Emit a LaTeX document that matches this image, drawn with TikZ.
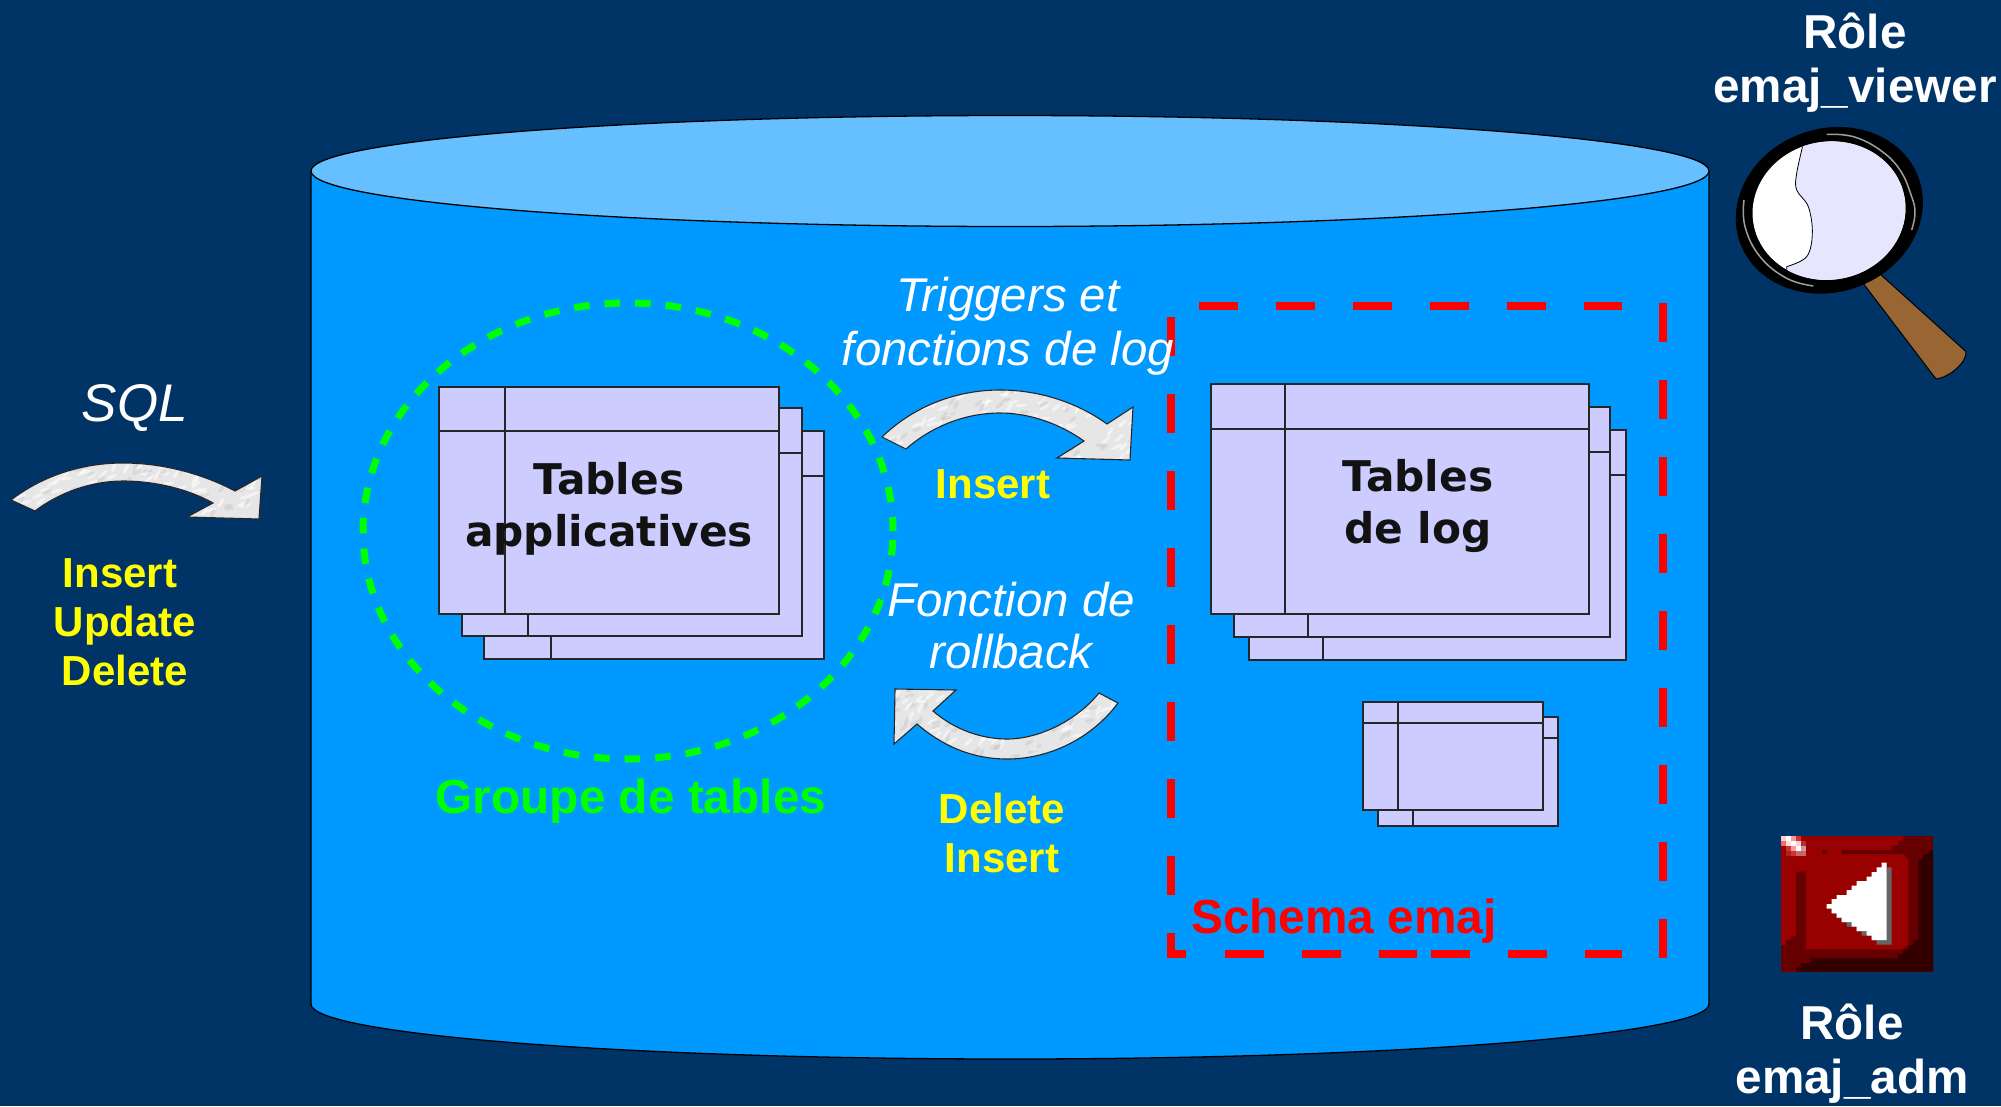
\documentclass[tikz,border=0pt]{standalone}
\usepackage{fontspec}
\setmainfont{Liberation Sans}
\newfontfamily\djv{DejaVu Sans}
\definecolor{bgc}{HTML}{003366}
\definecolor{cylbody}{HTML}{0099FF}
\definecolor{cyltop}{HTML}{66BFFF}
\definecolor{tblfill}{HTML}{CCCCFF}
\definecolor{marble}{HTML}{E6E6E6}
\definecolor{yel}{HTML}{FFFF00}
\definecolor{grn}{HTML}{00FF00}
\definecolor{redd}{HTML}{FF0000}
\definecolor{lens}{HTML}{E6E6FF}
\definecolor{handle}{HTML}{996633}
\definecolor{rA}{HTML}{990000}
\definecolor{rB}{HTML}{660000}
\definecolor{rC}{HTML}{330000}
\tikzset{
  x=1pt,y=-1pt,
  tbl/.style={fill=tblfill,draw=black!85,line width=1.4pt},
  tbltext/.style={font=\djv\bfseries\fontsize{42.3}{51.5}\selectfont,text=black!93,align=center,inner sep=0pt},
  role/.style={font=\bfseries\fontsize{47.6}{54}\selectfont,text=white,align=center,inner sep=0pt},
  ital/.style={font=\itshape\fontsize{47.4}{54}\selectfont,text=white,align=center,inner sep=0pt},
  yeltext/.style={font=\bfseries\fontsize{42}{49}\selectfont,text=yel,align=center,inner sep=0pt},
  zone/.style={font=\bfseries\fontsize{47.8}{54}\selectfont,inner sep=0pt},
  curved/.style={draw=black!85,line width=1.1pt,line join=miter},
  reddash/.style={redd,line width=7.5pt,dash pattern=on 38.5pt off 38.5pt},
}
\newcommand{\tablecard}[6]{%
  \draw[tbl] (#1,#2) rectangle (#3,#4);
  \draw[black!85,line width=1.4pt] (#1,#5) -- (#3,#5) (#6,#2) -- (#6,#4);
}
\newcommand{\marbled}[5]{%
  \fill[marble] #1;
  \begin{scope}
    \clip #1;
    \foreach \i in {1,...,110}{
      \pgfmathsetmacro\rx{#2+rnd*#4}
      \pgfmathsetmacro\ry{#3+rnd*#5}
      \pgfmathsetmacro\rr{rnd*70}
      \fill[white,opacity=.55,rotate around={\rr:(\rx,\ry)}] (\rx,\ry) ellipse[x radius=6,y radius=1.6];
    }
    \foreach \i in {1,...,70}{
      \pgfmathsetmacro\rx{#2+rnd*#4}
      \pgfmathsetmacro\ry{#3+rnd*#5}
      \pgfmathsetmacro\rr{rnd*70}
      \fill[black,opacity=.06,rotate around={\rr:(\rx,\ry)}] (\rx,\ry) ellipse[x radius=5,y radius=2];
    }
  \end{scope}
  \draw[curved] #1;
}
\begin{document}
\begin{tikzpicture}
\pgfmathsetseed{11}
\useasboundingbox (0,0) rectangle (2001,1106);
\fill[bgc] (0,0) rectangle (2001,1106);

% cylinder
\draw[fill=cylbody,draw=black,line width=1.3pt]
  (311,172) -- (311,1004) arc[x radius=699,y radius=55,start angle=180,end angle=0] -- (1709,172) -- cycle;
\draw[fill=cyltop,draw=black,line width=1.3pt] (1010,171) ellipse[x radius=699,y radius=55.5];

% applicative tables
\tablecard{484}{431}{824}{659}{476}{551}
\tablecard{462}{408}{802}{636}{453}{528}
\tablecard{439}{387}{779}{614}{431}{505}
\node[tbltext] (tapp) at (609,509) {Tables\\applicatives};

% group
\draw[grn,line width=7pt,dash pattern=on 15.5pt off 15.07pt,dash phase=21.7pt] (628,531) ellipse[x radius=265,y radius=228];
\node[zone,text=grn] (grp) at (631,801) {Groupe de tables};

% log tables
\tablecard{1249}{430}{1626}{660}{475}{1323}
\tablecard{1234}{407}{1610}{637}{452}{1308}
\tablecard{1211}{384}{1589}{614}{429}{1285}
\node[tbltext] (tlog) at (1418,506) {Tables\\de log};
\tablecard{1378}{717}{1558}{826}{738}{1413}
\tablecard{1363}{702}{1543}{810}{723}{1398}

% schema
\draw[reddash] (1199,306) -- (1622,306);
\draw[reddash] (1663,303) -- (1663,957.5);
\draw[reddash] (1171,317) -- (1171,954) -- (1186,954);
\draw[reddash] (1225,954) -- (1417,954);
\draw[reddash] (1431,954) -- (1622,954);
\node[zone,text=redd] (sch) at (1344,921) {Schema emaj};

% SQL arrow
\marbled{(11,500) .. controls (45,474) and (85,463) .. (123,463)
  .. controls (165,463) and (205,475) .. (235,491) -- (262,476) -- (259,519) -- (187,517) -- (213,503)
  .. controls (188,489) and (155,481) .. (123,481) .. controls (92,481) and (60,492) .. (35,511) -- cycle}{5}{460}{260}{62}
% Insert arrow
\marbled{(882,437) .. controls (915,405) and (958,390) .. (1000,390)
  .. controls (1040,390) and (1078,403) .. (1107,424) -- (1133,407) -- (1130,460) -- (1057,458) -- (1084,441)
  .. controls (1060,424) and (1030,413) .. (1000,413) .. controls (966,413) and (932,426) .. (906,449) -- cycle}{878}{388}{258}{74}
% Rollback arrow
\marbled{(1118,703) .. controls (1092,738) and (1050,759) .. (1007,759)
  .. controls (975,759) and (945,748) .. (917,724) -- (894,744) -- (895,689) -- (956,690) -- (933,711)
  .. controls (955,730) and (982,739) .. (1007,739) .. controls (1040,739) and (1077,720) .. (1099,693) -- cycle}{890}{686}{232}{75}

% labels
\node[ital,font=\itshape\fontsize{53}{54}\selectfont] (sql) at (135,408) {SQL};
\node[yeltext] (ops) at (125,622) {\mbox{Insert\hspace{10pt}}\\Update\\Delete};
\node[ital] (trg) at (1008,326.5) {Triggers et\\fonctions de log};
\node[yeltext] (ins) at (993,484) {Insert};
\node[ital,font=\itshape\fontsize{47.4}{52}\selectfont] (rbk) at (1011,625.5) {Fonction de\\rollback};
\node[yeltext] (di) at (1002,833) {Delete\\Insert};
\node[role] (rv) at (1855,63) {Rôle\\emaj\_viewer};
\node[role] (ra) at (1852,1054) {Rôle\\emaj\_adm};

% magnifier
\begin{scope}[shift={(1680,0)},x=0.3333pt,y=-0.3333pt]
  \draw[fill=handle,draw=black,line width=1pt] (548,848) -- (600,822) -- (858,1055)
    .. controls (862,1085) and (810,1132) .. (768,1137) -- cycle;
  \fill[black,rotate around={20:(448,631)}] (448,631) ellipse[x radius=285,y radius=245];
  \draw[gray!75,line width=1.5pt] plot[smooth,tension=0.7] coordinates {(440,403)(520,410)(600,450)(660,510)(695,590)(705,640)(695,690)};
  \draw[gray!75,line width=1.5pt] plot[smooth,tension=0.7] coordinates {(192,600)(195,680)(240,770)(320,835)(400,858)};
  \fill[white,rotate around={10:(447,632)}] (447,632) ellipse[x radius=230,y radius=207];
  \begin{scope}
    \clip[rotate around={10:(447,632)}] (447,632) ellipse[x radius=230,y radius=207];
    \draw[fill=lens,draw=black,line width=0.8pt] plot[smooth,tension=0.6] coordinates {(370,430)(350,520)(350,570)(385,620)(397,700)(380,770)(320,800)} -- (320,900) -- (760,900) -- (760,400) -- (370,400) -- cycle;
  \end{scope}
\end{scope}

% button
\begin{scope}[shift={(1700,810)},x=0.3333pt,y=-0.3333pt]
  \fill[rA] (243,78) rectangle (699,485);
  \fill[rB] (610,78) -- (699,78) -- (699,485) -- (243,485) -- (243,405) -- (258,405) -- (258,390) -- (273,390) -- (273,378) -- (288,378) -- (288,185) -- (318,185) -- (318,418) -- (610,418) -- (625,405) -- (625,148) -- (610,132) -- (425,132) -- (425,120) -- (575,120) -- (575,105) -- (595,105) -- (595,92) -- (610,92) -- cycle;
  \fill[rB] (365,120) rectangle (380,132);
  \fill[rC] (699,120) -- (685,120) -- (685,132) -- (670,132) -- (670,148) -- (655,148) -- (655,390) -- (640,390) -- (640,405) -- (625,405) -- (625,418) -- (610,418) -- (610,432) -- (595,432) -- (595,445) -- (333,445) -- (333,460) -- (303,460) -- (303,472) -- (288,472) -- (288,485) -- (699,485) -- cycle;
  \foreach \dx/\dy/\c in {15/14/black!60,0/0/white}{
    \fill[\c,shift={(\dx,\dy)}] (560,158) -- (545,158) -- (545,172) -- (530,172) -- (530,186) -- (515,186) -- (515,200) -- (500,200) -- (500,213) -- (470,213) -- (470,227) -- (455,227) -- (455,240) -- (440,240) -- (440,255) -- (410,255) -- (410,267) -- (395,267) -- (395,282) -- (380,282) -- (380,296) -- (395,296) -- (395,310) -- (410,310) -- (410,323) -- (425,323) -- (425,336) -- (455,336) -- (455,350) -- (470,350) -- (470,363) -- (500,363) -- (500,377) -- (515,377) -- (515,390) -- (560,390) -- cycle;
  }
  \foreach \px/\py/\c in {243/78/FFCCCC,258/78/FFFFFF,273/78/FF9999,288/78/CC3333,
     243/93/FF6666,258/93/FFDDDD,273/93/FFFFFF,288/93/FFCCCC,303/93/AA3333,
     258/108/CC3333,273/108/FF9999,288/108/FFFFFF,303/108/CC9999,
     258/123/AA2222,273/123/CC3333,288/123/CC6666,303/123/CC6666}{
    \definecolor{px}{HTML}{\c}
    \fill[px] (\px,\py) rectangle ++(15,15);
  }
\end{scope}
\end{tikzpicture}
\end{document}
